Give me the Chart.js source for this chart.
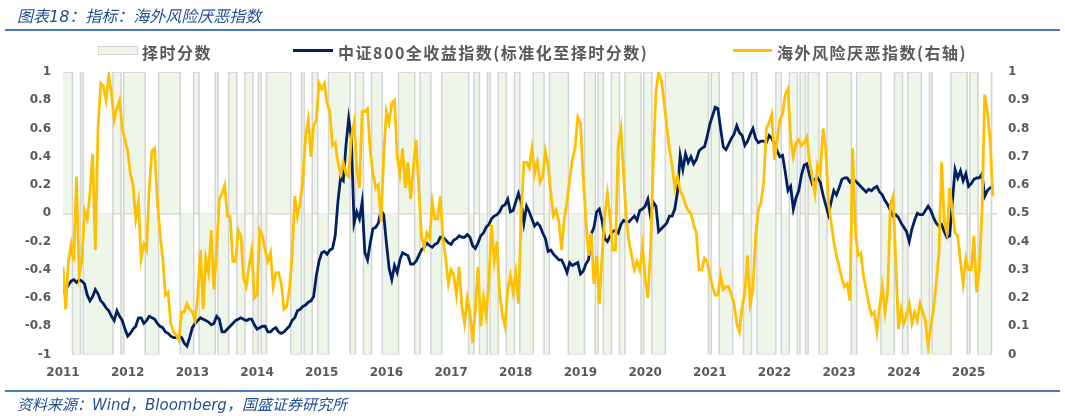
<!DOCTYPE html>
<html>
<head>
<meta charset="utf-8">
<script src="https://cdn.jsdelivr.net/npm/chart.js@4.4.1/dist/chart.umd.min.js"></script>
<style>
  html, body { margin:0; padding:0; background:#fff; }
  body { width:1065px; height:416px; position:relative; overflow:hidden; }
  #c { position:absolute; left:0; top:0; width:1065px; height:416px; }
  .rule { position:absolute; left:5px; width:1055px; height:1.5px; background:#4A7EBB; }
  #title { position:absolute; left:17px; top:3px; line-height:20px; font:italic 16px 'DejaVu Sans','Noto Sans CJK SC',sans-serif; color:#1F4E96; white-space:nowrap; }
  #footer { position:absolute; left:17px; top:393px; line-height:20px; font:italic 15px 'DejaVu Sans','Noto Sans CJK SC',sans-serif; color:#1F4E96; white-space:nowrap; }
  .lg { position:absolute; top:40px; line-height:20px; font:bold 16px 'Noto Sans CJK SC',sans-serif; color:#595959; letter-spacing:1.5px; white-space:nowrap; }
  .sw { position:absolute; }
</style>
</head>
<body>
<canvas id="c" width="1065" height="416"></canvas>
<div id="title">图表18：指标：海外风险厌恶指数</div>
<div class="rule" style="top:29px"></div>
<div class="sw" style="left:98px;top:46px;width:38px;height:7px;background:#EEF6EA;border:1px solid #D4D4D4;"></div>
<div class="lg" style="left:142px">择时分数</div>
<div class="sw" style="left:293px;top:49px;width:40px;height:3px;background:#002060;"></div>
<div class="lg" style="left:338px">中证800全收益指数(标准化至择时分数)</div>
<div class="sw" style="left:733px;top:49px;width:39px;height:3px;background:#FFC000;"></div>
<div class="lg" style="left:777px">海外风险厌恶指数(右轴)</div>
<div class="rule" style="top:390px"></div>
<div id="footer">资料来源：Wind，Bloomberg，国盛证券研究所</div>
<script>
// ---- data (semi-monthly observations starting Jan 2011) ----
const startYear = 2011;
const periodsPerYear = 24;
const yearLabels = [2011,2012,2013,2014,2015,2016,2017,2018,2019,2020,2021,2022,2023,2024,2025];
const leftTicks = [-1,-0.8,-0.6,-0.4,-0.2,0,0.2,0.4,0.6,0.8,1];
const rightTicks = [0,0.1,0.2,0.3,0.4,0.5,0.6,0.7,0.8,0.9,1];

// 择时分数 (+1 / -1)
const timingScore = [
  1,1,1,1,-1,-1,-1,1,-1,-1,-1,-1,-1,-1,-1,-1,-1,-1,-1,1,1,1,-1,1,
  1,1,1,1,1,1,1,-1,-1,-1,-1,-1,1,1,1,1,1,1,1,1,-1,-1,-1,-1,
  -1,1,1,-1,-1,-1,-1,-1,-1,1,-1,-1,-1,-1,1,1,1,-1,-1,-1,1,1,1,-1,
  -1,1,-1,-1,1,1,1,1,1,1,1,1,1,-1,-1,-1,-1,1,-1,-1,-1,1,1,-1,
  -1,-1,-1,1,1,1,1,1,1,1,1,-1,-1,1,1,1,-1,-1,-1,1,1,1,1,-1,
  -1,-1,-1,-1,-1,1,1,1,1,1,1,-1,-1,1,1,1,1,-1,-1,-1,-1,1,1,1,
  1,1,1,1,1,1,1,-1,-1,1,1,-1,-1,-1,1,-1,-1,-1,1,1,1,-1,-1,-1,
  1,1,-1,-1,-1,-1,-1,1,1,1,1,-1,-1,1,1,1,1,1,1,1,-1,-1,-1,-1,
  -1,-1,1,1,1,1,-1,1,1,-1,-1,-1,1,1,1,-1,-1,1,1,1,1,1,1,-1,
  1,1,1,-1,-1,-1,-1,-1,1,1,1,1,1,1,1,1,1,1,1,1,1,1,1,1,
  -1,1,1,1,-1,-1,-1,-1,-1,1,1,1,1,-1,-1,-1,1,1,-1,-1,-1,-1,-1,-1,
  -1,1,1,-1,-1,-1,1,1,1,-1,1,1,-1,1,1,1,1,-1,-1,-1,1,1,1,1,
  1,1,1,1,1,-1,-1,1,1,1,1,1,1,1,1,1,-1,-1,-1,-1,-1,1,1,1,
  -1,-1,1,1,1,1,1,-1,-1,-1,1,-1,-1,-1,-1,-1,-1,-1,1,1,1,1,1,1,
  -1,1,1,1,-1,-1,-1,-1,-1,1
];

// 中证800全收益指数(标准化至择时分数), left axis
const csi800 = [
  -0.56,-0.54,-0.51,-0.48,-0.47,-0.49,-0.47,-0.48,-0.50,-0.58,-0.62,-0.59,-0.54,-0.57,-0.62,-0.64,-0.67,-0.69,-0.73,-0.76,-0.69,-0.73,-0.76,-0.82,
  -0.87,-0.85,-0.82,-0.80,-0.74,-0.74,-0.78,-0.76,-0.73,-0.74,-0.75,-0.78,-0.80,-0.81,-0.84,-0.85,-0.87,-0.88,-0.88,-0.87,-0.88,-0.92,-0.94,-0.88,
  -0.81,-0.78,-0.76,-0.74,-0.75,-0.76,-0.77,-0.79,-0.78,-0.73,-0.75,-0.84,-0.84,-0.82,-0.80,-0.78,-0.76,-0.75,-0.74,-0.75,-0.76,-0.75,-0.75,-0.79,
  -0.82,-0.81,-0.80,-0.80,-0.84,-0.84,-0.82,-0.81,-0.84,-0.85,-0.84,-0.82,-0.80,-0.76,-0.74,-0.69,-0.68,-0.66,-0.65,-0.63,-0.62,-0.59,-0.44,-0.34,
  -0.28,-0.27,-0.29,-0.26,-0.25,-0.16,0.08,0.25,0.23,0.48,0.67,0.53,-0.07,0.01,-0.04,0.08,-0.28,-0.33,-0.21,-0.11,-0.10,-0.07,0.02,-0.01,
  -0.21,-0.39,-0.47,-0.37,-0.42,-0.33,-0.28,-0.29,-0.30,-0.36,-0.36,-0.34,-0.30,-0.26,-0.24,-0.21,-0.23,-0.24,-0.22,-0.21,-0.17,-0.17,-0.19,-0.21,
  -0.22,-0.19,-0.18,-0.16,-0.17,-0.17,-0.15,-0.17,-0.23,-0.25,-0.21,-0.16,-0.14,-0.10,-0.08,-0.04,-0.02,-0.01,0.01,0.05,0.06,0.10,0.01,0.02,
  0.08,0.14,0.08,-0.07,0.05,0.01,-0.04,-0.09,-0.07,-0.09,-0.14,-0.18,-0.27,-0.26,-0.29,-0.31,-0.33,-0.33,-0.37,-0.42,-0.35,-0.37,-0.36,-0.35,
  -0.43,-0.41,-0.36,-0.33,-0.15,-0.10,0.01,0.03,-0.05,-0.18,-0.20,-0.16,-0.13,-0.12,-0.14,-0.08,-0.05,-0.06,-0.06,-0.04,-0.02,-0.05,0.02,0.03,
  0.05,0.10,-0.02,0.08,0.05,-0.13,-0.11,-0.09,-0.07,-0.02,-0.02,0.03,0.15,0.41,0.31,0.42,0.36,0.40,0.35,0.38,0.44,0.46,0.47,0.54,
  0.63,0.69,0.75,0.74,0.60,0.47,0.45,0.49,0.53,0.56,0.62,0.57,0.55,0.48,0.51,0.56,0.60,0.53,0.50,0.51,0.51,0.50,0.55,0.53,
  0.49,0.44,0.40,0.41,0.29,0.16,0.19,0.03,0.11,0.16,0.27,0.34,0.35,0.27,0.21,0.24,0.25,0.22,0.13,0.06,-0.01,0.08,0.16,0.13,
  0.18,0.24,0.25,0.25,0.22,0.24,0.23,0.21,0.19,0.17,0.15,0.17,0.16,0.18,0.19,0.15,0.13,0.09,0.06,0.02,-0.02,-0.01,-0.03,-0.07,
  -0.10,-0.13,-0.20,-0.11,-0.05,0.00,-0.01,-0.01,0.02,0.05,0.02,-0.03,-0.07,-0.09,-0.08,-0.13,-0.17,-0.16,0.08,0.31,0.25,0.30,0.23,0.28,
  0.19,0.21,0.24,0.25,0.25,0.28,0.12,0.16,0.18,0.19
];

// 海外风险厌恶指数, right axis
const riskAversion = [
  0.31,0.16,0.33,0.39,0.33,0.63,0.28,0.33,0.51,0.48,0.57,0.71,0.37,0.80,0.96,0.95,0.90,0.99,0.92,0.83,0.87,0.90,0.80,0.76,
  0.72,0.64,0.60,0.48,0.54,0.34,0.39,0.37,0.59,0.72,0.73,0.54,0.43,0.34,0.21,0.22,0.11,0.08,0.07,0.05,0.15,0.15,0.18,0.16,
  0.15,0.12,0.21,0.37,0.16,0.34,0.29,0.44,0.23,0.37,0.55,0.57,0.60,0.49,0.49,0.33,0.33,0.44,0.42,0.27,0.24,0.31,0.37,0.20,
  0.21,0.44,0.42,0.37,0.33,0.36,0.24,0.29,0.29,0.25,0.16,0.17,0.23,0.35,0.56,0.49,0.54,0.62,0.77,0.83,0.70,0.81,0.83,0.96,
  0.94,0.96,0.89,0.86,0.74,0.75,0.68,0.64,0.68,0.64,0.63,0.77,0.82,0.66,0.59,0.86,0.86,0.87,0.72,0.64,0.59,0.60,0.47,0.70,
  0.86,0.82,0.89,0.90,0.70,0.64,0.73,0.59,0.68,0.55,0.66,0.76,0.59,0.42,0.38,0.43,0.41,0.54,0.48,0.48,0.56,0.41,0.34,0.25,
  0.30,0.28,0.21,0.31,0.17,0.11,0.20,0.15,0.04,0.16,0.31,0.10,0.20,0.14,0.25,0.46,0.33,0.40,0.22,0.14,0.10,0.23,0.28,0.22,
  0.29,0.18,0.49,0.68,0.68,0.66,0.73,0.64,0.68,0.61,0.63,0.72,0.67,0.57,0.49,0.51,0.47,0.37,0.48,0.54,0.62,0.69,0.73,0.84,
  0.82,0.63,0.48,0.35,0.43,0.25,0.35,0.18,0.35,0.49,0.57,0.48,0.37,0.37,0.74,0.80,0.64,0.48,0.40,0.35,0.30,0.33,0.30,0.38,
  0.27,0.20,0.37,0.68,0.93,1.00,0.97,0.90,0.81,0.73,0.67,0.59,0.63,0.58,0.56,0.53,0.51,0.50,0.46,0.43,0.30,0.30,0.34,0.33,
  0.28,0.24,0.21,0.21,0.28,0.23,0.24,0.24,0.21,0.18,0.11,0.08,0.17,0.22,0.35,0.18,0.23,0.42,0.51,0.54,0.61,0.80,0.82,0.85,
  0.69,0.76,0.83,0.85,0.92,0.94,0.76,0.70,0.75,0.76,0.74,0.75,0.77,0.68,0.63,0.57,0.67,0.64,0.80,0.73,0.54,0.47,0.40,0.35,
  0.31,0.27,0.24,0.25,0.19,0.73,0.44,0.35,0.36,0.28,0.23,0.18,0.14,0.15,0.08,0.17,0.24,0.15,0.22,0.53,0.56,0.33,0.09,0.16,
  0.11,0.14,0.18,0.11,0.15,0.12,0.18,0.15,0.12,0.03,0.10,0.16,0.25,0.36,0.68,0.47,0.43,0.59,0.51,0.43,0.42,0.33,0.25,0.34,
  0.30,0.30,0.42,0.22,0.30,0.51,0.92,0.86,0.76,0.56
];

// ---- chart ----
const dates = timingScore.map((_, i) => startYear + i / periodsPerYear);
const toXY = arr => arr.map((v, i) => ({ x: dates[i], y: v }));
const tickFont = { family: 'DejaVu Sans', weight: 'bold', size: 12 };
const tickColor = '#595959';
const fmt = v => String(Math.round(v * 10) / 10);

new Chart(document.getElementById('c'), {
  type: 'line',
  data: {
    datasets: [
      { label: '海外风险厌恶指数(右轴)', data: toXY(riskAversion), yAxisID: 'y1',
        borderColor: '#FFC000', borderWidth: 2.8, pointRadius: 0, tension: 0, fill: false, order: 0 },
      { label: '中证800全收益指数(标准化至择时分数)', data: toXY(csi800), yAxisID: 'y',
        borderColor: '#002060', borderWidth: 2.8, pointRadius: 0, tension: 0, fill: false, order: 1 },
      { label: '择时分数', data: toXY(timingScore), yAxisID: 'y', stepped: 'middle',
        fill: 'origin', backgroundColor: '#EEF6EA', borderColor: '#D4D4D4', borderWidth: 1.5,
        pointRadius: 0, order: 2 }
    ]
  },
  options: {
    responsive: false,
    animation: false,
    layout: { padding: { top: 72, left: 0, right: 0, bottom: 0 } },
    plugins: { legend: { display: false }, tooltip: { enabled: false } },
    scales: {
      x: {
        type: 'linear', min: 2011, max: 2025.44,
        afterBuildTicks: s => { s.ticks = yearLabels.map(v => ({ value: v })); },
        afterFit: s => { s.height = 61.5; },
        ticks: { callback: v => String(v), font: tickFont, color: tickColor, padding: 11, maxRotation: 0, autoSkip: false },
        grid: { display: false, drawTicks: false },
        border: { display: false }
      },
      y: {
        position: 'left', min: -1, max: 1,
        afterBuildTicks: s => { s.ticks = leftTicks.map(v => ({ value: v })); },
        afterFit: s => { s.width = 63; },
        ticks: { callback: fmt, font: tickFont, color: tickColor, padding: 12 },
        grid: { drawTicks: false, color: c => (c.tick && c.tick.value === 0) ? '#D4D4D4' : 'rgba(0,0,0,0)', lineWidth: 1.5 },
        border: { display: false }
      },
      y1: {
        position: 'right', min: 0, max: 1,
        afterBuildTicks: s => { s.ticks = rightTicks.map(v => ({ value: v })); },
        afterFit: s => { s.width = 68; },
        ticks: { callback: fmt, font: tickFont, color: tickColor, padding: 11 },
        grid: { display: false, drawTicks: false },
        border: { display: false }
      }
    }
  }
});
</script>
</body>
</html>
